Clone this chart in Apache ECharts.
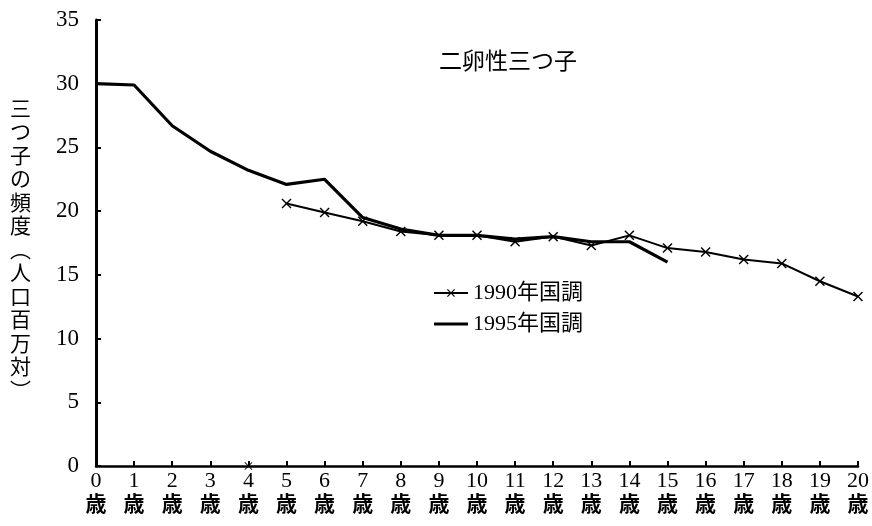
<!DOCTYPE html>
<html>
<head>
<meta charset="utf-8">
<script src="https://cdn.jsdelivr.net/npm/echarts@6/dist/echarts.min.js"></script>
<style>
  html, body { margin: 0; padding: 0; background: #fff; }
  #main { width: 872px; height: 526px; }
</style>
</head>
<body>
<div id="main"></div>
<script>
  // 年齢（0歳〜20歳）
  var ages = ['0', '1', '2', '3', '4', '5', '6', '7', '8', '9', '10',
              '11', '12', '13', '14', '15', '16', '17', '18', '19', '20'];
  // 1995年国調（0〜15歳）
  var census1995 = [30.0, 29.9, 26.7, 24.7, 23.2, 22.1, 22.5, 19.5, 18.6, 18.1, 18.1,
                    17.8, 18.0, 17.6, 17.6, 16.0, null, null, null, null, null];
  // 1990年国調（5〜20歳）
  var census1990 = [null, null, null, null, null, 20.6, 19.9, 19.2, 18.4, 18.1, 18.1,
                    17.6, 18.0, 17.3, 18.1, 17.1, 16.8, 16.2, 15.9, 14.5, 13.3];
  // 4歳の位置に単独で打たれている×印
  var stray1990 = [[4, 0]];
  var yTicks = [0, 5, 10, 15, 20, 25, 30, 35];

  var crossMark = 'path://M0,1L1,0L5,4L9,0L10,1L6,5L10,9L9,10L5,6L1,10L0,9L4,5Z';
  var yName = '三つ子の頻度︵人口百万対︶';

  var myChart = echarts.init(document.getElementById('main'));
  var option = {
    backgroundColor: '#fff',
    animation: false,
    grid: { left: 96, right: 14, top: 20, bottom: 60 },
    title: {
      text: '二卵性三つ子',
      left: 503, top: 44, textAlign: 'center',
      textStyle: { fontFamily: 'Noto Sans CJK JP', fontSize: 23, fontWeight: 'normal', color: '#000' }
    },
    legend: {
      data: [
        { name: '1990年国調' },
        { name: '1995年国調', icon: 'path://M0,0H34V3H0Z' }
      ],
      orient: 'vertical',
      left: 428, top: 277,
      itemWidth: 34, itemHeight: 10, itemGap: 9,
      textStyle: { fontFamily: 'Liberation Serif, Noto Sans CJK JP', fontSize: 22, color: '#000' }
    },
    graphic: [{
      type: 'text',
      left: 10, top: 96,
      style: {
        text: yName.split('').join('\n'),
        fontFamily: 'Noto Sans CJK JP', fontSize: 21, lineHeight: 23.5,
        fill: '#000', align: 'center'
      }
    }],
    xAxis: {
      type: 'category',
      boundaryGap: false,
      data: ages,
      axisLine: { lineStyle: { color: '#000', width: 2.5 } },
      axisTick: { inside: true, length: 5, lineStyle: { color: '#000', width: 2 } },
      axisLabel: {
        margin: 4,
        interval: 0,
        formatter: function (v) { return '{n|' + v + '}\n{k|歳}'; },
        rich: {
          n: { fontFamily: 'Liberation Serif', fontSize: 22, color: '#000', lineHeight: 22 },
          k: { fontFamily: 'Noto Sans CJK JP', fontSize: 21, color: '#000', fontWeight: 'bold', lineHeight: 22 }
        }
      }
    },
    yAxis: {
      type: 'value',
      min: yTicks[0], max: yTicks[yTicks.length - 1], interval: 5,
      axisLine: { show: true, lineStyle: { color: '#000', width: 3 } },
      axisTick: { show: true, inside: true, length: 5, lineStyle: { color: '#000', width: 2 } },
      splitLine: { show: false },
      axisLabel: { margin: 17, fontFamily: 'Liberation Serif', fontSize: 23, color: '#000' }
    },
    series: [
      {
        name: '1990年国調',
        type: 'line',
        data: census1990,
        symbol: crossMark,
        symbolSize: 10,
        showAllSymbol: true,
        lineStyle: { color: '#000', width: 2 },
        itemStyle: { color: '#000' },
        z: 3
      },
      {
        name: '1995年国調',
        type: 'line',
        data: census1995,
        symbol: 'none',
        lineStyle: { color: '#000', width: 3.2 },
        itemStyle: { color: '#000' },
        z: 2
      },
      {
        name: 'stray',
        type: 'scatter',
        data: stray1990,
        symbol: crossMark,
        symbolSize: 8,
        itemStyle: { color: '#000' },
        z: 4
      }
    ]
  };
  myChart.setOption(option);
</script>
</body>
</html>
